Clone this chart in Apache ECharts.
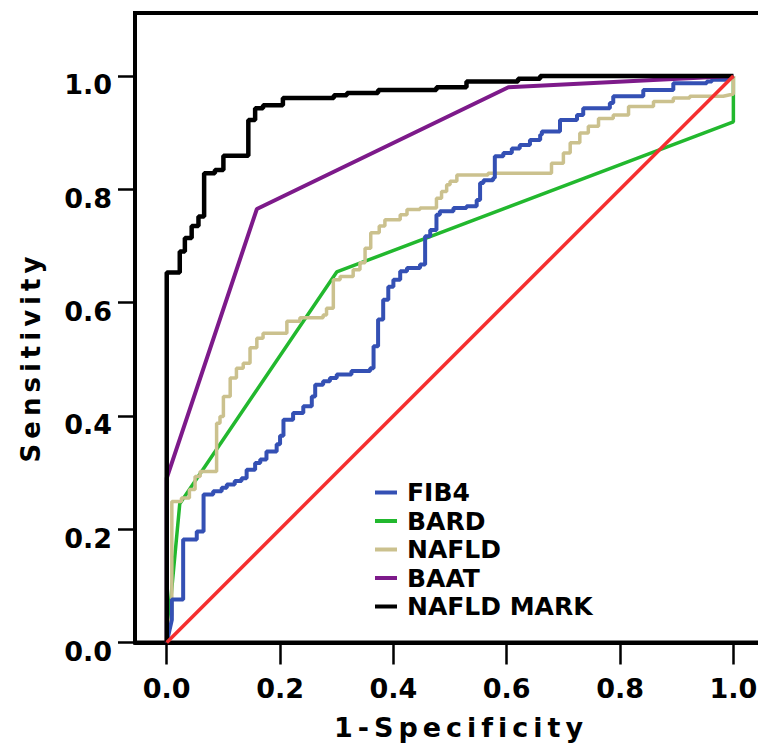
<!DOCTYPE html>
<html>
<head>
<meta charset="utf-8">
<script src="https://cdn.jsdelivr.net/npm/echarts@6/dist/echarts.min.js"></script>
<style>
html,body{margin:0;padding:0;background:#fff;overflow:hidden}
#chart{width:758px;height:743px}
</style>
</head>
<body>
<div id="chart"></div>
<script>
const xTicks = [0, 0.2, 0.4, 0.6, 0.8, 1.0];
const yTicks = [0, 0.2, 0.4, 0.6, 0.8, 1.0];
const legendNames = ['FIB4', 'BARD', 'NAFLD', 'BAAT', 'NAFLD MARK'];

const fib4 = [[0,0],[0.009,0.04],[0.009,0.076],[0.029,0.076],[0.029,0.182],[0.053,0.182],[0.053,0.196],[0.065,0.196],[0.065,0.261],[0.082,0.261],[0.082,0.267],[0.097,0.267],[0.097,0.273],[0.106,0.273],[0.106,0.279],[0.12,0.279],[0.12,0.285],[0.132,0.285],[0.132,0.29],[0.141,0.29],[0.141,0.305],[0.156,0.305],[0.156,0.317],[0.165,0.317],[0.165,0.323],[0.176,0.323],[0.176,0.337],[0.194,0.337],[0.194,0.35],[0.2,0.35],[0.2,0.365],[0.206,0.365],[0.206,0.393],[0.223,0.393],[0.223,0.405],[0.241,0.405],[0.241,0.417],[0.256,0.417],[0.256,0.434],[0.262,0.434],[0.262,0.455],[0.276,0.455],[0.276,0.461],[0.288,0.461],[0.288,0.467],[0.3,0.467],[0.3,0.473],[0.326,0.473],[0.326,0.479],[0.359,0.479],[0.359,0.484],[0.365,0.484],[0.365,0.523],[0.373,0.523],[0.373,0.57],[0.382,0.57],[0.382,0.605],[0.391,0.605],[0.391,0.628],[0.4,0.628],[0.4,0.64],[0.412,0.64],[0.412,0.655],[0.424,0.655],[0.424,0.661],[0.447,0.661],[0.447,0.667],[0.456,0.667],[0.456,0.717],[0.465,0.717],[0.465,0.728],[0.476,0.728],[0.476,0.755],[0.482,0.755],[0.482,0.761],[0.506,0.761],[0.506,0.767],[0.529,0.767],[0.529,0.77],[0.547,0.77],[0.547,0.781],[0.553,0.781],[0.553,0.811],[0.559,0.811],[0.559,0.816],[0.576,0.816],[0.576,0.82],[0.579,0.82],[0.579,0.858],[0.594,0.858],[0.594,0.864],[0.609,0.864],[0.609,0.872],[0.623,0.872],[0.623,0.878],[0.641,0.878],[0.641,0.887],[0.659,0.887],[0.659,0.896],[0.662,0.896],[0.662,0.902],[0.694,0.902],[0.694,0.922],[0.724,0.922],[0.724,0.931],[0.735,0.931],[0.735,0.943],[0.782,0.943],[0.782,0.952],[0.788,0.952],[0.788,0.964],[0.841,0.964],[0.841,0.975],[0.894,0.975],[0.894,0.987],[0.953,0.987],[0.953,0.99],[0.962,0.99],[0.962,0.993],[0.99,0.993],[1,1]];

const bard = [[0,0],[0.023,0.245],[0.3,0.654],[1,0.919],[1,1]];

const nafld = [[0,0],[0.009,0.05],[0.009,0.249],[0.026,0.249],[0.026,0.255],[0.04,0.255],[0.04,0.27],[0.05,0.27],[0.05,0.293],[0.059,0.293],[0.059,0.302],[0.088,0.302],[0.088,0.387],[0.094,0.387],[0.094,0.399],[0.1,0.399],[0.1,0.434],[0.112,0.434],[0.112,0.467],[0.123,0.467],[0.123,0.484],[0.135,0.484],[0.135,0.493],[0.147,0.493],[0.147,0.52],[0.159,0.52],[0.159,0.537],[0.17,0.537],[0.17,0.546],[0.212,0.546],[0.212,0.567],[0.235,0.567],[0.235,0.573],[0.276,0.573],[0.276,0.578],[0.282,0.578],[0.282,0.59],[0.294,0.59],[0.294,0.64],[0.306,0.64],[0.306,0.646],[0.329,0.646],[0.329,0.658],[0.341,0.658],[0.341,0.67],[0.35,0.67],[0.35,0.696],[0.36,0.696],[0.36,0.723],[0.375,0.723],[0.375,0.735],[0.385,0.735],[0.385,0.746],[0.412,0.746],[0.412,0.755],[0.424,0.755],[0.424,0.764],[0.447,0.764],[0.447,0.767],[0.476,0.767],[0.476,0.784],[0.485,0.784],[0.485,0.796],[0.494,0.796],[0.494,0.808],[0.5,0.808],[0.5,0.814],[0.512,0.814],[0.512,0.825],[0.567,0.825],[0.567,0.828],[0.679,0.828],[0.679,0.846],[0.7,0.846],[0.7,0.864],[0.712,0.864],[0.712,0.882],[0.729,0.882],[0.729,0.899],[0.744,0.899],[0.744,0.911],[0.762,0.911],[0.762,0.925],[0.788,0.925],[0.788,0.931],[0.815,0.931],[0.815,0.946],[0.859,0.946],[0.859,0.955],[0.894,0.955],[0.894,0.961],[0.923,0.961],[0.923,0.964],[0.982,0.964],[1,0.968],[1,1]];

const baat = [[0,0],[0,0.29],[0.159,0.765],[0.603,0.98],[1,1]];

const nafldMark = [[0,0],[0,0.653],[0.023,0.653],[0.023,0.69],[0.032,0.69],[0.032,0.714],[0.044,0.714],[0.044,0.735],[0.056,0.735],[0.056,0.752],[0.066,0.752],[0.066,0.828],[0.085,0.828],[0.085,0.834],[0.1,0.834],[0.1,0.859],[0.144,0.859],[0.144,0.922],[0.156,0.922],[0.156,0.943],[0.17,0.943],[0.17,0.948],[0.205,0.948],[0.205,0.961],[0.295,0.961],[0.295,0.966],[0.318,0.966],[0.318,0.97],[0.373,0.97],[0.373,0.975],[0.476,0.975],[0.476,0.98],[0.529,0.98],[0.529,0.99],[0.62,0.99],[0.62,0.995],[0.659,0.995],[0.659,1.0],[1,1]];

const reference = [[0,0],[1,1]];

const FONT = 'DejaVu Sans';

function lineSeries(name, data, color, width) {
  return {
    name: name, type: 'line', data: data, color: color,
    symbol: 'none', showSymbol: false, animation: false,
    lineStyle: { color: color, width: width },
    itemStyle: { color: color },
    emphasis: { disabled: true }
  };
}

const chart = echarts.init(document.getElementById('chart'), null, { renderer: 'svg' });

const option = {
  animation: false,
  backgroundColor: '#fff',
  grid: { left: 135, top: 13, width: 627, height: 629.5, show: true, borderColor: '#000', borderWidth: 4, backgroundColor: 'transparent', containLabel: false, outerBoundsMode: 'none' },
  xAxis: {
    type: 'value', min: -0.056, max: 1.0505,
    axisLine: { show: true, onZero: false, lineStyle: { color: '#000', width: 4 } },
    axisTick: { show: true, customValues: xTicks, length: 22, lineStyle: { color: '#000', width: 2.5 } },
    axisLabel: { customValues: xTicks, formatter: v => v.toFixed(1), color: '#000', fontFamily: FONT, fontWeight: 'bold', fontSize: 27, margin: 32 },
    splitLine: { show: false }
  },
  yAxis: {
    type: 'value', min: 0, max: 1.111,
    axisLine: { show: true, onZero: false, lineStyle: { color: '#000', width: 4 } },
    axisTick: { show: true, customValues: yTicks, length: 17, lineStyle: { color: '#000', width: 2.5 } },
    axisLabel: { customValues: yTicks, formatter: v => v.toFixed(1), color: '#000', fontFamily: FONT, fontWeight: 'bold', fontSize: 27, margin: 23, verticalAlign: 'top', lineHeight: 18 },
    splitLine: { show: false }
  },
  legend: {
    orient: 'vertical', left: 375, top: 480, padding: 0,
    itemWidth: 22, itemHeight: 4, itemGap: 3.5, icon: 'rect',
    selectedMode: false,
    data: legendNames,
    textStyle: { fontFamily: FONT, fontWeight: 'bold', fontSize: 25, color: '#000', lineHeight: 25, padding: [0, 0, 0, 5] }
  },
  graphic: [
    { type: 'text', x: 31, y: 357, rotation: Math.PI / 2, silent: true,
      style: { text: 'Sensitivity', font: 'bold 26px "DejaVu Sans"', fill: '#000', textAlign: 'center', textVerticalAlign: 'middle' } },
    { type: 'text', x: 461, y: 727, silent: true,
      style: { text: '1-Specificity', font: 'bold 27px "DejaVu Sans"', fill: '#000', textAlign: 'center', textVerticalAlign: 'middle' } }
  ],
  series: [
    lineSeries('BARD', bard, '#22b82e', 3.5),
    lineSeries('NAFLD', nafld, '#cbc18e', 3.5),
    lineSeries('FIB4', fib4, '#3450b4', 4),
    lineSeries('BAAT', baat, '#7d1a8a', 4),
    lineSeries('NAFLD MARK', nafldMark, '#000000', 4.5),
    lineSeries('Reference', reference, '#f52f2f', 3.5)
  ]
};

chart.setOption(option);

function applySpacing() {
  document.querySelectorAll('#chart svg text').forEach(function (t) {
    const s = t.textContent;
    if (s === 'Sensitivity' || s === '1-Specificity') {
      t.setAttribute('letter-spacing', '5');
      t.style.letterSpacing = '5px';
    }
  });
}
chart.on('finished', applySpacing);
applySpacing();
setTimeout(applySpacing, 0);
setTimeout(applySpacing, 100);
</script>
</body>
</html>
